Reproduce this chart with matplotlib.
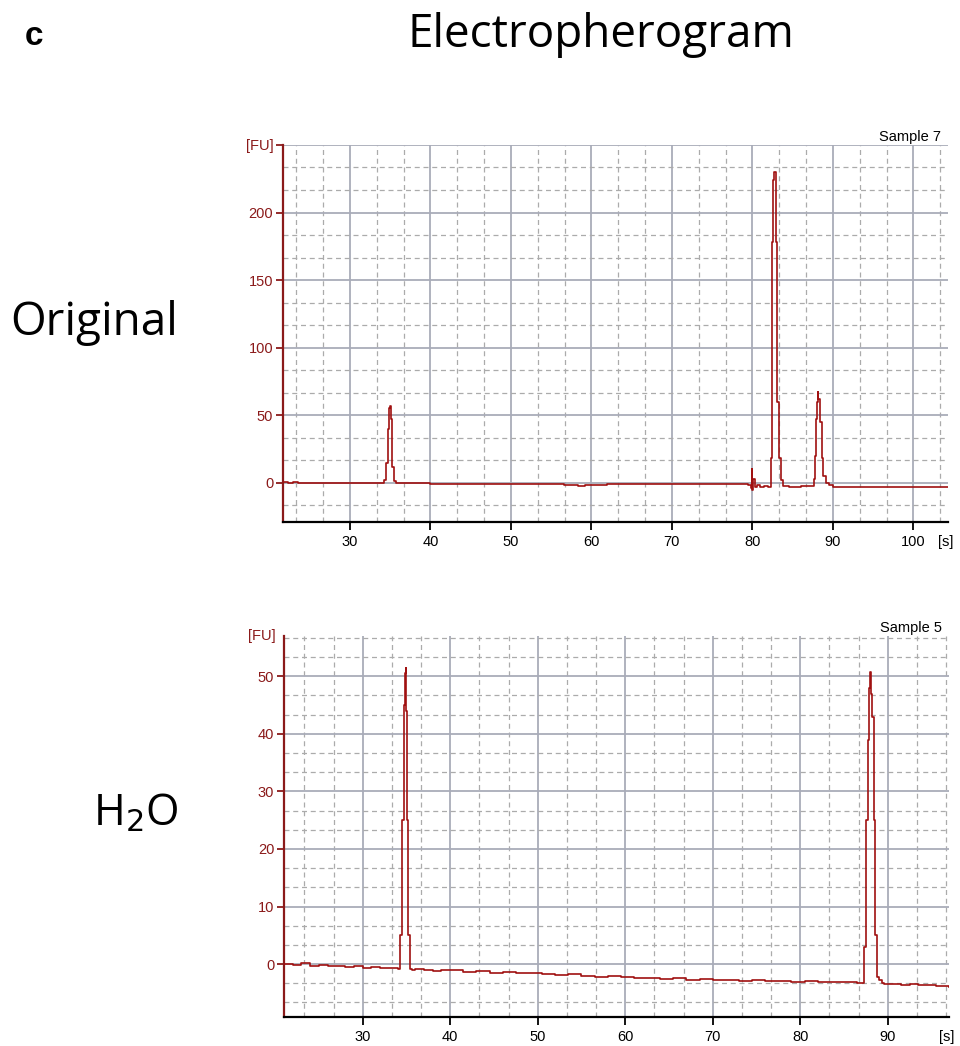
import matplotlib
matplotlib.use("Agg")
import matplotlib.pyplot as plt
from matplotlib.ticker import MultipleLocator

# ---------------- data ----------------
# Original (Sample 7): time [s], fluorescence [FU]
orig_time = [21.7, 22.3, 23.0, 23.6, 24.5, 26.0, 30.0, 34.3, 34.5, 34.7, 34.9,
             35.0, 35.1, 35.3, 35.5, 35.7, 40.0, 45.0, 50.0, 55.0, 56.6, 57.5,
             58.3, 59.2, 60.0, 62.0, 64.0, 66.0, 70.0, 75.0, 78.5, 79.5, 79.8,
             79.9, 80.0, 80.1, 80.3, 80.6, 81.0, 81.5, 82.0, 82.3, 82.5, 82.6,
             82.7, 82.9, 83.1, 83.3, 83.5, 83.8, 84.5, 86.0, 87.3, 87.6, 87.8,
             87.9, 88.0, 88.1, 88.2, 88.4, 88.6, 88.8, 89.1, 89.5, 90.0, 92.0,
             95.0, 98.0, 101.0, 104.3]
orig_fu = [0.3, -0.3, 0.4, -0.2, 0.0, -0.2, -0.4, 2.0, 15.0, 40.0, 55.0,
           57.0, 47.0, 12.0, 1.0, -0.5, -0.6, -0.7, -0.8, -1.0, -2.0, -1.6,
           -2.2, -1.8, -1.5, -1.2, -1.0, -1.1, -1.0, -1.1, -1.2, -1.5, -4.0,
           10.0, -5.0, 3.0, -3.0, -2.0, -3.5, -2.5, -3.0, 18.0, 178.0, 224.0,
           230.0, 178.0, 60.0, 18.0, 2.0, -2.5, -2.8, -2.6, -2.5, 3.0, 20.0,
           47.0, 60.0, 67.0, 62.0, 45.0, 18.0, 5.0, 0.0, -2.0, -3.0, -3.0,
           -3.1, -3.0, -3.1, -3.0]

# H2O (Sample 5)
h2o_time = [21.0, 22.0, 23.0, 24.0, 25.0, 26.0, 27.0, 28.0, 29.0, 30.0,
            31.0, 32.0, 33.0, 34.0, 34.3, 34.5, 34.7, 34.8, 34.9, 35.0,
            35.1, 35.2, 35.4, 35.6, 36.0, 37.0, 38.0, 39.0, 40.0, 41.5,
            43.0, 44.5, 46.0, 47.5, 49.0, 50.5, 52.0, 53.5, 55.0, 56.5,
            58.0, 59.5, 61.0, 62.5, 64.0, 65.5, 67.0, 68.5, 70.0, 71.5,
            73.0, 74.5, 76.0, 77.5, 79.0, 80.5, 82.0, 83.5, 85.0, 86.5,
            87.3, 87.5, 87.7, 87.9, 88.0, 88.1, 88.2, 88.4, 88.6, 88.8,
            89.0, 89.3, 89.6, 90.5, 91.5, 92.5, 93.5, 94.5, 95.5, 97.0]
h2o_fu = [0.0, -0.2, 0.1, -0.3, -0.1, -0.4, -0.3, -0.5, -0.4, -0.6,
          -0.5, -0.7, -0.6, -0.8, 5.0, 25.0, 45.0, 50.5, 51.5, 44.0,
          25.0, 5.0, -0.8, -1.0, -0.9, -1.0, -1.2, -1.0, -1.1, -1.3,
          -1.2, -1.5, -1.4, -1.6, -1.5, -1.7, -1.9, -1.8, -2.0, -2.2,
          -2.1, -2.3, -2.5, -2.4, -2.6, -2.5, -2.7, -2.6, -2.8, -2.7,
          -2.9, -2.8, -3.0, -2.9, -3.1, -3.0, -3.1, -3.2, -3.1, -3.3,
          3.0, 25.0, 39.0, 48.0, 50.8, 47.0, 43.0, 25.0, 5.0, -2.3,
          -2.8, -3.3, -3.4, -3.5, -3.6, -3.5, -3.7, -3.6, -3.8, -3.9]

orig_yticks = [0, 50, 100, 150, 200, 250]
orig_ylabels = ["0", "50", "100", "150", "200", "[FU]"]
orig_xticks = [30, 40, 50, 60, 70, 80, 90, 100]
h2o_yticks = [0, 10, 20, 30, 40, 50]
h2o_xticks = [30, 40, 50, 60, 70, 80, 90]

# ---------------- styling ----------------
DARKRED = "#8B1A1A"
TRACE = "#A01010"
GRID = "#A9ACB9"
MINGRID = "#ABABAB"
TICKFONT = "Liberation Sans"
TICKSIZE = 10.5

fig = plt.figure(figsize=(9.6, 10.46), dpi=100)


def style_axes(ax, xlim, ylim, xticks, yticks, ylabels, xminor, yminor, sample, xpad):
    ax.set_xlim(*xlim)
    ax.set_ylim(*ylim)
    ax.set_xticks(xticks)
    ax.set_yticks(yticks)
    ax.set_yticklabels(ylabels)
    ax.xaxis.set_minor_locator(MultipleLocator(xminor))
    ax.yaxis.set_minor_locator(MultipleLocator(yminor))
    ax.grid(which="major", color=GRID, linewidth=1.3, linestyle="-", zorder=0)
    ax.grid(which="minor", color=MINGRID, linewidth=0.9, linestyle=(0, (4, 3)), zorder=0)
    ax.set_axisbelow(True)
    for s in ("top", "right"):
        ax.spines[s].set_visible(False)
    ax.spines["left"].set_color(DARKRED)
    ax.spines["left"].set_linewidth(1.6)
    ax.spines["bottom"].set_color("black")
    ax.spines["bottom"].set_linewidth(1.6)
    ax.tick_params(axis="y", which="major", colors=DARKRED, labelcolor=DARKRED,
                   length=5, width=1.3, labelsize=TICKSIZE, pad=2)
    ax.tick_params(axis="x", which="major", colors="black", length=6, width=1.3,
                   labelsize=TICKSIZE, pad=xpad)
    ax.tick_params(which="minor", length=0)
    for lab in ax.get_xticklabels() + ax.get_yticklabels():
        lab.set_family(TICKFONT)
    ax.text(0.99, 1.003, sample, transform=ax.transAxes, ha="right", va="bottom",
            fontsize=TICKSIZE, family=TICKFONT, color="black")
    ax.annotate("[s]", xy=(0.997, 0), xycoords="axes fraction",
                xytext=(0, -(6 + xpad)), textcoords="offset points", ha="center", va="top",
                fontsize=TICKSIZE, family=TICKFONT, color="black")


ax1 = fig.add_axes([0.2948, 0.5010, 0.6927, 0.3604])
ax1.plot(orig_time, orig_fu, drawstyle="steps-post", color=TRACE, linewidth=1.2, zorder=3)
style_axes(ax1, (21.7, 104.3), (-29, 250), orig_xticks, orig_yticks, orig_ylabels,
           10 / 3, 50 / 3, "Sample 7", 3.5)

ax2 = fig.add_axes([0.2958, 0.0277, 0.6927, 0.3643])
ax2.plot(h2o_time, h2o_fu, drawstyle="steps-post", color=TRACE, linewidth=1.2, zorder=3)
style_axes(ax2, (21.0, 97.0), (-9.2, 57), h2o_xticks, h2o_yticks,
           [str(v) for v in h2o_yticks], 10 / 3, 10 / 3, "Sample 5", 3.0)
ax2.text(-0.012, 1.0, "[FU]", transform=ax2.transAxes, ha="right", va="center",
         fontsize=TICKSIZE, family=TICKFONT, color=DARKRED)

# figure texts
fig.text(25 / 960, 1 - 45 / 1046, "c", fontsize=24, fontweight="bold",
         family="Liberation Sans", ha="left", va="baseline")
fig.text(601 / 960, 1 - 47 / 1046, "Electropherogram", fontsize=33, family="Open Sans",
         ha="center", va="baseline")
fig.text(94 / 960, 1 - 335 / 1046, "Original", fontsize=33, family="Open Sans",
         ha="center", va="baseline")
fig.text(136 / 960, 1 - 825 / 1046, "H$_2$O", fontsize=31, family="Open Sans",
         ha="center", va="baseline")

fig.savefig("out.png", dpi=100)
